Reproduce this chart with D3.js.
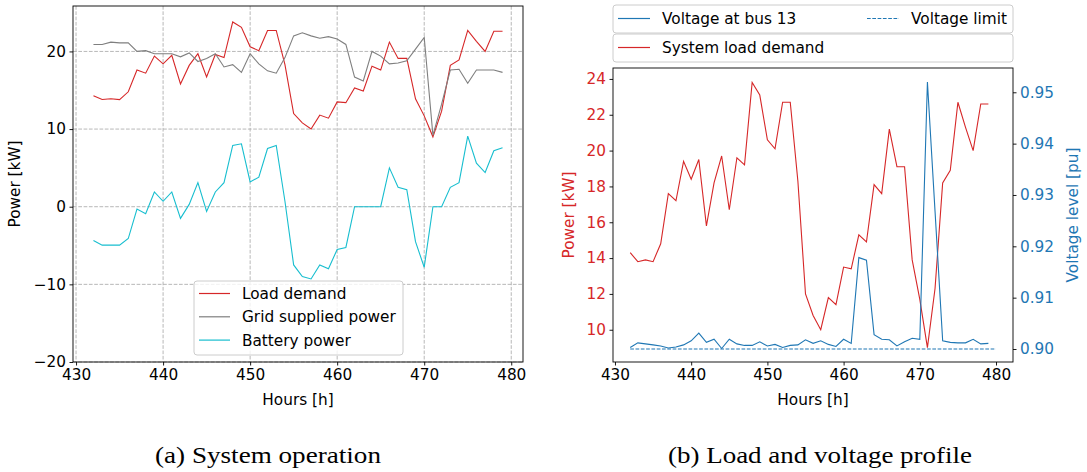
<!DOCTYPE html>
<html>
<head>
<meta charset="utf-8">
<script src="https://cdn.jsdelivr.net/npm/d3@7"></script>
<style>
  body { margin: 0; background: #fff; }
  text { font-family: "DejaVu Sans", sans-serif; }
</style>
</head>
<body>
<script>
const width = 1087, height = 472;
const svg = d3.select("body").append("svg")
    .attr("width", width)
    .attr("height", height);

const fs = "15.3px";

// ---- data (hour 432 .. 479) ----
const hours = d3.range(432, 480);

const loadDemand = [14.3, 13.8, 13.9, 13.8, 14.8, 17.6, 17.2, 19.4, 18.4, 19.5, 15.8, 18.2,
    19.7, 16.7, 19.6, 19.2, 23.8, 23.1, 20.6, 20.1, 22.7, 22.7, 18.3, 12.0,
    10.8, 10.0, 11.8, 11.4, 13.5, 13.4, 15.3, 14.9, 18.1, 17.6, 21.2, 19.1,
    19.1, 13.9, 11.7, 9.0, 12.3, 18.2, 18.9, 22.7, 21.3, 20.0, 22.6, 22.6];

const gridPower = [20.9, 20.9, 21.2, 21.1, 21.1, 20.0, 20.1, 19.7, 19.7, 19.7, 19.3, 19.8,
    18.7, 19.1, 19.7, 18.0, 18.3, 17.3, 19.7, 18.4, 17.5, 17.2, 19.2, 22.0,
    22.4, 22.0, 21.7, 21.9, 21.6, 20.9, 16.7, 16.2, 20.0, 19.4, 18.4, 18.5,
    18.8, 20.3, 21.8, 9.2, 13.2, 17.6, 17.7, 15.9, 17.6, 17.6, 17.6, 17.3];

const batteryPower = [-4.35, -4.95, -4.95, -4.95, -4.1, -0.3, -0.9, 1.9, 0.7, 1.9, -1.5, 0.3,
    3.1, -0.6, 1.9, 3.1, 7.9, 8.1, 3.2, 3.8, 7.5, 7.9, 0.7, -7.5,
    -9.0, -9.3, -7.5, -8.0, -5.5, -5.25, 0, 0, 0, 0, 5.0, 2.5,
    2.2, -4.5, -7.8, 0, 0, 2.5, 3.1, 9.1, 5.6, 4.4, 7.2, 7.6];

const busVoltage = [0.9003, 0.9012, 0.9010, 0.9008, 0.9006, 0.9002, 0.9004, 0.9008, 0.9016, 0.9031, 0.9013, 0.9019,
    0.9001, 0.9019, 0.9010, 0.9007, 0.9007, 0.9014, 0.9006, 0.9009, 0.9003, 0.9007, 0.9008, 0.9018,
    0.9011, 0.9016, 0.9009, 0.9005, 0.9019, 0.9011, 0.9178, 0.9173, 0.9028, 0.9019, 0.9018, 0.9006,
    0.9014, 0.9021, 0.9019, 0.9520, 0.9268, 0.9016, 0.9013, 0.9012, 0.9012, 0.9019, 0.9010, 0.9011];

const limitHours = [432, 480];
const limitValues = [0.90, 0.90];

const xTicks = [430, 440, 450, 460, 470, 480];
const powerTicksA = [-20, -10, 0, 10, 20];
const powerTicksB = [10, 12, 14, 16, 18, 20, 22, 24];
const voltTicks = [0.90, 0.91, 0.92, 0.93, 0.94, 0.95];

const colors = {
    load: "#d62728",
    grid: "#7f7f7f",
    battery: "#17becf",
    voltage: "#1f77b4"
};

const fmtMinus = d => String(d).replace("-", "\u2212");

function styleAxis(g, labelColor) {
    g.select(".domain").remove();
    g.selectAll(".tick line").attr("stroke", "#000").attr("stroke-width", 0.9);
    g.selectAll(".tick text")
        .attr("font-size", fs)
        .attr("fill", labelColor || "#000");
}

function drawLine(g, xs, ys, x, y, color, dash) {
    const line = d3.line().x((d, i) => x(xs[i])).y(d => y(d));
    g.append("path")
        .datum(ys)
        .attr("d", line)
        .attr("fill", "none")
        .attr("stroke", color)
        .attr("stroke-width", 1.1)
        .attr("stroke-dasharray", dash || null);
}

// ================= (a) System operation =================
const A = { left: 73, right: 523, top: 6, bottom: 362 };
const xA = d3.scaleLinear().domain([429.65, 481.35]).range([A.left, A.right]);
const yA = d3.scaleLinear().domain([-20, 25.85]).range([A.bottom, A.top]);

const gA = svg.append("g");

// dashed grid
gA.selectAll(".vgrid").data(xTicks).enter().append("line")
    .attr("x1", d => xA(d)).attr("x2", d => xA(d))
    .attr("y1", A.top).attr("y2", A.bottom)
    .attr("stroke", "#b0b0b0").attr("stroke-width", 0.9)
    .attr("stroke-dasharray", "3.7,1.6");
gA.selectAll(".hgrid").data(powerTicksA).enter().append("line")
    .attr("x1", A.left).attr("x2", A.right)
    .attr("y1", d => yA(d)).attr("y2", d => yA(d))
    .attr("stroke", "#b0b0b0").attr("stroke-width", 0.9)
    .attr("stroke-dasharray", "3.7,1.6");

drawLine(gA, hours, loadDemand, xA, yA, colors.load);
drawLine(gA, hours, gridPower, xA, yA, colors.grid);
drawLine(gA, hours, batteryPower, xA, yA, colors.battery);

gA.append("g")
    .attr("transform", `translate(0,${A.bottom})`)
    .call(d3.axisBottom(xA).tickValues(xTicks).tickSize(3.5).tickPadding(4))
    .call(g => styleAxis(g));
gA.append("g")
    .attr("transform", `translate(${A.left},0)`)
    .call(d3.axisLeft(yA).tickValues(powerTicksA).tickSize(3.5).tickPadding(3.5).tickFormat(fmtMinus))
    .call(g => styleAxis(g));

gA.append("rect")
    .attr("x", A.left).attr("y", A.top)
    .attr("width", A.right - A.left).attr("height", A.bottom - A.top)
    .attr("fill", "none").attr("stroke", "#000").attr("stroke-width", 0.9);

gA.append("text")
    .attr("x", (A.left + A.right) / 2).attr("y", 405)
    .attr("text-anchor", "middle").attr("font-size", fs)
    .text("Hours [h]");
gA.append("text")
    .attr("transform", `translate(20,${(A.top + A.bottom) / 2}) rotate(-90)`)
    .attr("text-anchor", "middle").attr("font-size", fs)
    .text("Power [kW]");

// legend (a)
const legA = [
    { label: "Load demand", color: colors.load },
    { label: "Grid supplied power", color: colors.grid },
    { label: "Battery power", color: colors.battery }
];
const legAg = gA.append("g").attr("transform", "translate(194,281)");
legAg.append("rect")
    .attr("width", 209).attr("height", 74).attr("rx", 3)
    .attr("fill", "#fff").attr("fill-opacity", 0.8)
    .attr("stroke", "#cccccc").attr("stroke-width", 1);
legAg.selectAll(".item").data(legA).enter().append("g")
    .attr("transform", (d, i) => `translate(0,${12.5 + i * 23.3})`)
    .each(function (d) {
        const g = d3.select(this);
        g.append("line").attr("x1", 5).attr("x2", 36)
            .attr("stroke", d.color).attr("stroke-width", 1.2);
        g.append("text").attr("x", 48).attr("dy", "0.36em")
            .attr("font-size", fs).text(d.label);
    });

// ================= (b) Load and voltage profile =================
const B = { left: 613, right: 1013, top: 68, bottom: 362 };
const xB = d3.scaleLinear().domain([429.74, 482.23]).range([B.left, B.right]);
const yB = d3.scaleLinear().domain([8.2, 24.61]).range([B.bottom, B.top]);
const vB = d3.scaleLinear().domain([0.89747, 0.95473]).range([B.bottom, B.top]);

const gB = svg.append("g");

drawLine(gB, hours, loadDemand, xB, yB, colors.load);
drawLine(gB, hours, busVoltage, xB, vB, colors.voltage);
drawLine(gB, limitHours, limitValues, xB, vB, colors.voltage, "3.7,1.6");

gB.append("g")
    .attr("transform", `translate(0,${B.bottom})`)
    .call(d3.axisBottom(xB).tickValues(xTicks).tickSize(3.5).tickPadding(4))
    .call(g => styleAxis(g));
gB.append("g")
    .attr("transform", `translate(${B.left},0)`)
    .call(d3.axisLeft(yB).tickValues(powerTicksB).tickSize(3.5).tickPadding(3.5))
    .call(g => styleAxis(g, colors.load));
gB.append("g")
    .attr("transform", `translate(${B.right},0)`)
    .call(d3.axisRight(vB).tickValues(voltTicks).tickSize(3.5).tickPadding(3.5).tickFormat(d3.format(".2f")))
    .call(g => styleAxis(g, colors.voltage));

gB.append("rect")
    .attr("x", B.left).attr("y", B.top)
    .attr("width", B.right - B.left).attr("height", B.bottom - B.top)
    .attr("fill", "none").attr("stroke", "#000").attr("stroke-width", 0.9);

gB.append("text")
    .attr("x", (B.left + B.right) / 2).attr("y", 405)
    .attr("text-anchor", "middle").attr("font-size", fs)
    .text("Hours [h]");
gB.append("text")
    .attr("transform", `translate(574,${(B.top + B.bottom) / 2}) rotate(-90)`)
    .attr("text-anchor", "middle").attr("font-size", fs)
    .attr("fill", colors.load)
    .text("Power [kW]");
gB.append("text")
    .attr("transform", `translate(1078,${(B.top + B.bottom) / 2}) rotate(-90)`)
    .attr("text-anchor", "middle").attr("font-size", fs)
    .attr("fill", colors.voltage)
    .text("Voltage level [pu]");

// legends (b): two boxes above the axes
function legendBox(y, items) {
    const g = gB.append("g").attr("transform", `translate(${B.left},${y})`);
    g.append("rect")
        .attr("width", B.right - B.left).attr("height", 28).attr("rx", 3)
        .attr("fill", "#fff").attr("stroke", "#cccccc").attr("stroke-width", 1);
    items.forEach(d => {
        g.append("line").attr("x1", d.x).attr("x2", d.x + 32)
            .attr("y1", 13.5).attr("y2", 13.5)
            .attr("stroke", d.color).attr("stroke-width", 1.2)
            .attr("stroke-dasharray", d.dash || null);
        g.append("text").attr("x", d.x + 44).attr("y", 13.5).attr("dy", "0.36em")
            .attr("font-size", fs).text(d.label);
    });
}
legendBox(5, [
    { label: "Voltage at bus 13", color: colors.voltage, x: 5 },
    { label: "Voltage limit", color: colors.voltage, x: 254, dash: "3.7,1.6" }
]);
legendBox(34, [
    { label: "System load demand", color: colors.load, x: 5 }
]);

// ================= captions =================
const captions = [
    { text: "(a) System operation", x: 268, len: 226 },
    { text: "(b) Load and voltage profile", x: 820, len: 304 }
];
svg.selectAll(".caption").data(captions).enter().append("text")
    .attr("class", "caption")
    .attr("x", d => d.x).attr("y", 463)
    .attr("text-anchor", "middle")
    .style("font-family", "'Liberation Serif', serif")
    .attr("font-size", "24px")
    .attr("textLength", d => d.len)
    .attr("lengthAdjust", "spacingAndGlyphs")
    .text(d => d.text);
</script>
</body>
</html>
